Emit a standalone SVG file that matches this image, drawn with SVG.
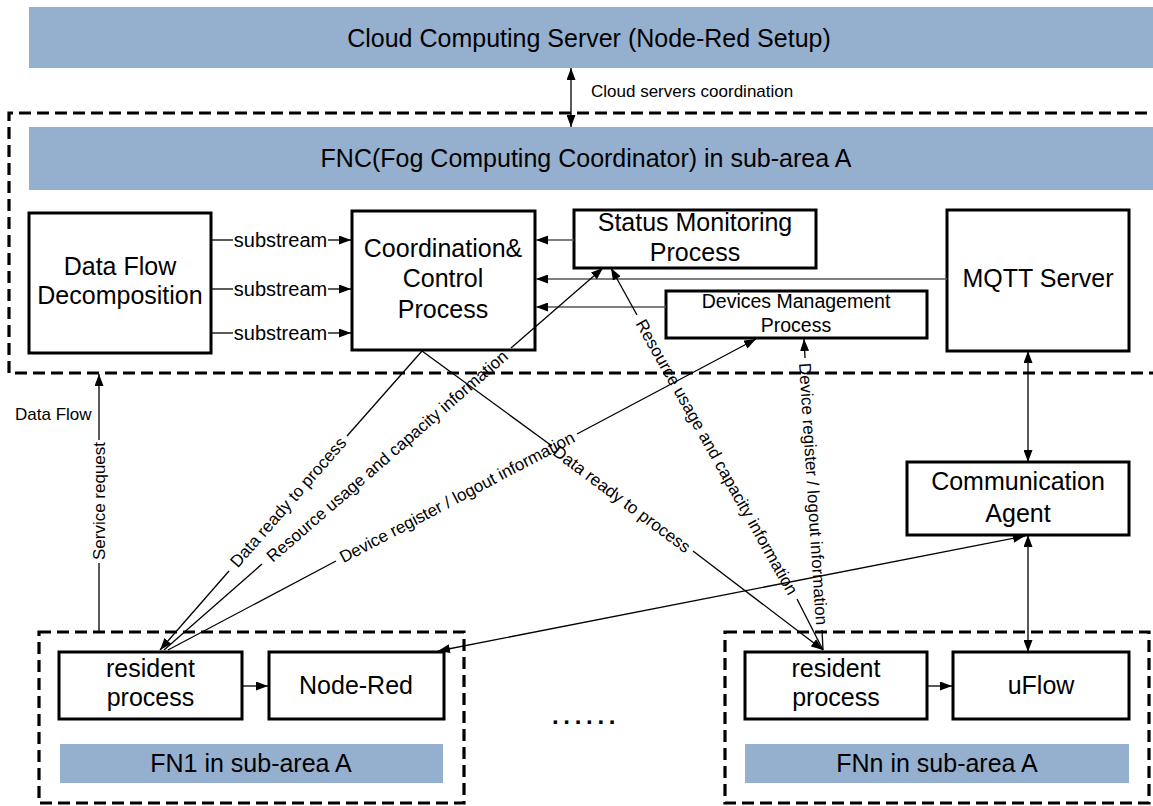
<svg xmlns="http://www.w3.org/2000/svg" width="1153" height="806" viewBox="0 0 1153 806">
<style>
.bar{fill:#95b0cf}
.box{fill:#fff;stroke:#000;stroke-width:3}
.dash{fill:none;stroke:#000;stroke-width:3.2;stroke-dasharray:12 6}
.t{font-family:"Liberation Sans",Arial,sans-serif;text-anchor:middle;fill:#000}
.big{font-size:25px}
.mid{font-size:20px}
.sm{font-size:17px}
.ln{fill:none;stroke:#000;stroke-width:1.3}
.gl{fill:none;stroke:#555;stroke-width:1.5}
</style>
<defs>
<marker id="ah" viewBox="0 0 12 9" refX="12" refY="4.5" markerWidth="12" markerHeight="9" markerUnits="userSpaceOnUse" orient="auto-start-reverse">
<path d="M0,0 L12,4.5 L0,9 z" fill="#000"/>
</marker>
</defs>
<rect width="1153" height="806" fill="#fff"/>

<g id="cloud">
<rect class="bar" x="29" y="7" width="1130" height="61"/>
<text class="t big" x="589" y="47">Cloud Computing Server (Node-Red Setup)</text>
</g>

<g id="fnc-area">
<path class="dash" d="M1165,113 H9 V373 H1165"/>
<rect class="bar" x="29" y="127" width="1130" height="63"/>
<text class="t big" x="586" y="167">FNC(Fog Computing Coordinator) in sub-area A</text>
</g>

<g id="dfd">
<rect class="box" x="29" y="213" width="182" height="140"/>
<text class="t big" x="120" y="275">Data Flow</text>
<text class="t big" x="120" y="304">Decomposition</text>
</g>

<g id="ccp">
<rect class="box" x="352" y="211" width="183" height="139"/>
<text class="t big" x="443" y="257">Coordination&amp;</text>
<text class="t big" x="443" y="287">Control</text>
<text class="t big" x="443" y="318">Process</text>
</g>

<g id="smp">
<rect class="box" x="574" y="210" width="242" height="58"/>
<text class="t big" x="695" y="231">Status Monitoring</text>
<text class="t big" x="695" y="261">Process</text>
</g>

<g id="dmp">
<rect class="box" x="666" y="291" width="261" height="47"/>
<text class="t" style="font-size:19.5px" x="796" y="308">Devices Management</text>
<text class="t" style="font-size:19.5px" x="796" y="332">Process</text>
</g>

<g id="mqtt">
<rect class="box" x="947" y="210" width="182" height="141"/>
<text class="t big" x="1038" y="287">MQTT Server</text>
</g>

<g id="agent">
<rect class="box" x="907" y="462" width="222" height="73"/>
<text class="t big" x="1018" y="490">Communication</text>
<text class="t big" x="1018" y="522">Agent</text>
</g>

<g id="fn1">
<rect class="dash" x="39" y="632" width="425" height="171"/>
<rect class="box" x="59" y="652" width="183" height="67"/>
<text class="t big" x="150.5" y="677">resident</text>
<text class="t big" x="150.5" y="706">process</text>
<rect class="box" x="269" y="652" width="175" height="67"/>
<text class="t big" x="356" y="694">Node-Red</text>
<rect class="bar" x="60" y="744" width="383" height="39"/>
<text class="t big" x="251" y="772">FN1 in sub-area A</text>
</g>

<g id="fnn">
<rect class="dash" x="725" y="632" width="424" height="171"/>
<rect class="box" x="745" y="652" width="182" height="67"/>
<text class="t big" x="836" y="677">resident</text>
<text class="t big" x="836" y="706">process</text>
<rect class="box" x="953" y="652" width="176" height="67"/>
<text class="t big" x="1041" y="694">uFlow</text>
<rect class="bar" x="745" y="744" width="384" height="39"/>
<text class="t big" x="937" y="772">FNn in sub-area A</text>
</g>

<g id="ellipsis">
<text x="552" y="724" style="font-family:'Liberation Sans',Arial,sans-serif;font-size:24px;font-weight:bold;letter-spacing:4.7px">......</text>
</g>

<g id="connectors">
<line class="ln" x1="571" y1="68" x2="571" y2="127" marker-start="url(#ah)" marker-end="url(#ah)"/>
<text class="sm" style="font-family:'Liberation Sans',Arial,sans-serif" x="591" y="97">Cloud servers coordination</text>

<line class="ln" x1="211" y1="240" x2="233" y2="240"/>
<line class="ln" x1="328" y1="240" x2="351" y2="240" marker-end="url(#ah)"/>
<text class="t mid" x="280.5" y="247">substream</text>
<line class="ln" x1="211" y1="289" x2="233" y2="289"/>
<line class="ln" x1="328" y1="289" x2="351" y2="289" marker-end="url(#ah)"/>
<text class="t mid" x="280.5" y="296">substream</text>
<line class="ln" x1="211" y1="333" x2="233" y2="333"/>
<line class="ln" x1="328" y1="333" x2="351" y2="333" marker-end="url(#ah)"/>
<text class="t mid" x="280.5" y="340">substream</text>

<line class="gl" x1="574" y1="240" x2="536" y2="240" marker-end="url(#ah)"/>
<line class="gl" x1="947" y1="279" x2="536" y2="279" marker-end="url(#ah)"/>
<line class="gl" x1="666" y1="307" x2="536" y2="307" marker-end="url(#ah)"/>

<line class="ln" x1="1028" y1="351" x2="1028" y2="462" marker-start="url(#ah)" marker-end="url(#ah)"/>
<line class="ln" x1="1028" y1="535" x2="1028" y2="652" marker-start="url(#ah)" marker-end="url(#ah)"/>
<line class="ln" x1="1025" y1="536" x2="438" y2="651" marker-start="url(#ah)" marker-end="url(#ah)"/>

<line class="ln" x1="242" y1="686" x2="268" y2="686" marker-end="url(#ah)"/>
<line class="ln" x1="927" y1="686" x2="952" y2="686" marker-end="url(#ah)"/>

<line class="ln" x1="99" y1="632" x2="99" y2="563"/>
<line class="ln" x1="99" y1="440" x2="99" y2="374" marker-end="url(#ah)"/>
<text class="t sm" transform="translate(99,501) rotate(-90)" y="6">Service request</text>
<text class="sm" style="font-family:'Liberation Sans',Arial,sans-serif" x="15" y="420">Data Flow</text>

<line class="ln" x1="422" y1="351" x2="347" y2="436"/>
<line class="ln" x1="229" y1="571" x2="160" y2="650" marker-end="url(#ah)"/>
<text class="t sm" transform="translate(288,502) rotate(-48.8)" y="6">Data ready to process</text>

<line class="ln" x1="164" y1="650" x2="262" y2="564"/>
<line class="ln" x1="511" y1="348" x2="603" y2="268" marker-end="url(#ah)"/>
<text class="t sm" transform="translate(387,456) rotate(-40.95)" y="6">Resource usage and capacity information</text>

<line class="ln" x1="168" y1="650" x2="336" y2="561"/>
<line class="ln" x1="577" y1="434" x2="756" y2="339" marker-end="url(#ah)"/>
<text class="t sm" transform="translate(457,497) rotate(-27.7)" y="6">Device register / logout information</text>

<line class="ln" x1="422" y1="351" x2="552" y2="446"/>
<line class="ln" x1="693" y1="551" x2="823" y2="650" marker-end="url(#ah)"/>
<text class="t sm" transform="translate(622,499) rotate(36.7)" y="6">Data ready to process</text>

<line class="ln" x1="611" y1="268" x2="637" y2="315" marker-start="url(#ah)"/>
<line class="ln" x1="797" y1="599" x2="823" y2="650"/>
<text class="t sm" transform="translate(717,457) rotate(60.7)" y="6">Resource usage and capacity information</text>

<line class="ln" x1="804" y1="339" x2="805" y2="358" marker-start="url(#ah)"/>
<line class="ln" x1="822" y1="630" x2="823" y2="650"/>
<text class="t sm" transform="translate(813.5,494) rotate(86.3)" y="6">Device register / logout information</text>
</g>
</svg>
